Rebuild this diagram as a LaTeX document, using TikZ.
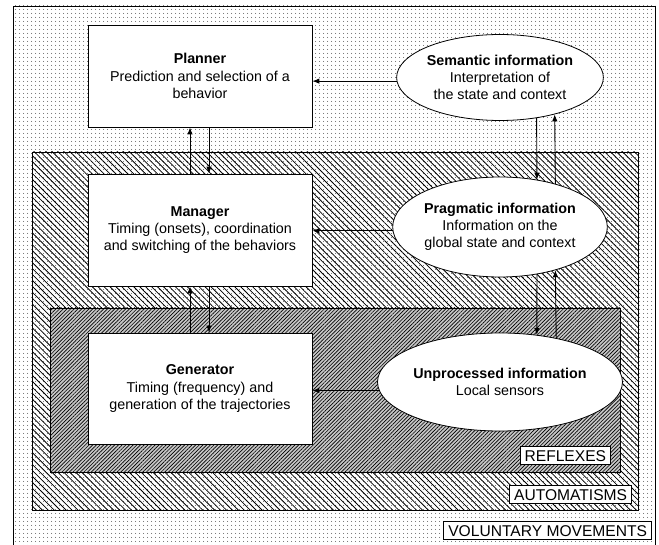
\documentclass[tikz,border=0pt]{standalone}
\usepackage{fontspec}
\setmainfont{Liberation Sans}
\usetikzlibrary{arrows,arrows.meta,shapes,patterns.meta}
\tikzstyle{module}=[rectangle,draw,fill=white,line width=0.8pt,minimum width=224pt,align=center,font=\fontsize{14.3}{17.2}\selectfont]
\tikzstyle{info}=[ellipse,draw,fill=white,line width=0.8pt,inner sep=0pt,align=center,font=\fontsize{14.3}{17.2}\selectfont]
\tikzstyle{link}=[draw,line width=0.9pt,-{Latex[length=7pt,width=5.5pt]}]
\tikzstyle{level label}=[rectangle,draw,fill=white,line width=0.8pt,inner xsep=4.5pt,inner ysep=0pt,minimum height=18pt,text height=11.3pt,text depth=0pt,font=\fontsize{15.6}{18}\selectfont]
\tikzstyle{voluntary area}=[draw,line width=0.8pt,pattern={Dots[distance=4pt,radius=0.6pt]},pattern color=black!70]
\tikzstyle{automatism area}=[draw,line width=0.8pt,pattern={Lines[angle=-45,distance=4.2pt,line width=0.8pt]}]
\tikzstyle{reflex area}=[draw,line width=0.8pt,preaction={fill=black!22},pattern={Lines[angle=45,distance=2.6pt,line width=0.65pt]}]

\begin{document}
\begin{tikzpicture}[x=1pt,y=-1pt]
    \useasboundingbox (0,0) rectangle (659,545);
    \clip (0,0) rectangle (659,545);
    % Draw the three levels, from outside to inside
    \path[voluntary area] (13,6) rectangle (655,560);
    \path[automatism area] (32,152) rectangle (638,510);
    \path[reflex area] (50,308) rectangle (620,472);

    % Then the modules on the left
    \node[module,minimum height=102pt] (planner) at (200,76) {\textbf{Planner}\\Prediction and selection of a\\behavior};
    \node[module,minimum height=112pt] (manager) at (200,230) {\textbf{Manager}\\Timing (onsets), coordination\\and switching of the behaviors};
    \node[module,minimum height=111pt] (generator) at (200,388.5) {\textbf{Generator}\\Timing (frequency) and\\generation of the trajectories};

    % and the information on the right
    \node[info,minimum width=204pt,minimum height=86pt] (semantic) at (500,77.5) {\textbf{Semantic information}\\Interpretation of\\the state and context};
    \node[info,minimum width=202pt,minimum height=100pt] (pragmatic) at (500,227) {\textbf{Pragmatic information}\\Information on the\\global state and context};
    \node[info,minimum width=204pt,minimum height=98pt] (unprocessed) at (500,382) {\textbf{Unprocessed information}\\Local sensors};

    % Names of the levels
    \node[level label,anchor=south east] (reflexes) at (611,465) {REFLEXES};
    \node[level label,anchor=south east] (automatisms) at (632,504) {AUTOMATISMS};
    \node[level label,anchor=south east] (voluntary) at (652,540) {VOLUNTARY MOVEMENTS};

    % Connect the modules up and down
    \foreach \lower/\upper in {manager/planner, generator/manager} {
        \path[link] ([xshift=-10pt]\lower.north) -- ([xshift=-10pt]\upper.south);
        \path[link] ([xshift=9pt]\upper.south) -- ([xshift=9pt]\lower.north);
    }
    \foreach \lower/\upper/\down/\up in {pragmatic/semantic/-48/-34, unprocessed/pragmatic/-52/-38} {
        \path[link] (\upper.\down) -- (\lower.52);
        \path[link] (\lower.38) -- (\upper.\up);
    }
    % Information goes to the modules
    \foreach \source/\dest/\ang in {semantic/planner/182, pragmatic/manager/182, unprocessed/generator/184}
        \path[link] (\source.\ang) -- (\source.\ang -| \dest.east);
\end{tikzpicture}
\end{document}
